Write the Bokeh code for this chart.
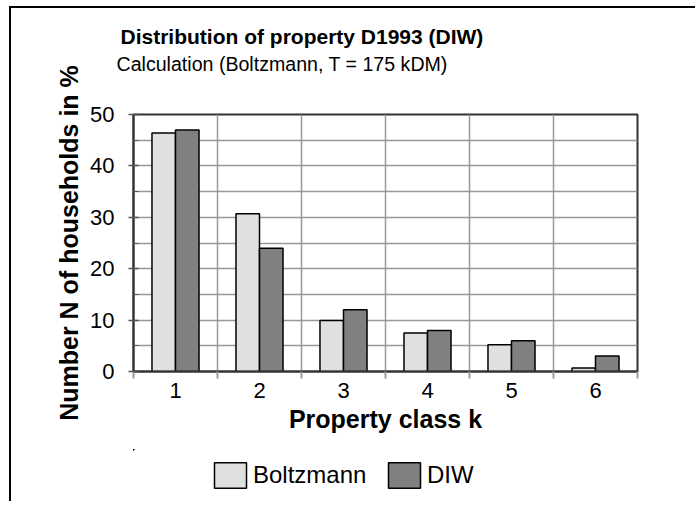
from bokeh.plotting import figure
from bokeh.layouts import column
from bokeh.models import ColumnDataSource, FixedTicker, Legend, LegendItem, Title
from bokeh.transform import dodge
from bokeh.embed import file_html
from bokeh.resources import INLINE

# ---- data ----
classes = [1, 2, 3, 4, 5, 6]
boltzmann = [46.4, 30.7, 9.9, 7.5, 5.2, 0.7]
diw = [47.0, 24.0, 12.0, 8.0, 6.0, 3.0]
y_ticks = [0, 10, 20, 30, 40, 50]
y_minor = [5, 15, 25, 35, 45]
class_bounds = [0.5, 1.5, 2.5, 3.5, 4.5, 5.5, 6.5]
series_names = ["Boltzmann", "DIW"]

title_text = "Distribution of property D1993 (DIW)"
subtitle_text = "Calculation (Boltzmann, T = 175 kDM)"
x_label = "Property class k"
y_label = "Number N of households in %"

FONT = "Liberation Sans"
GRID = "#999999"
AXIS = "#333333"
LIGHT = "#e0e0e0"
DARK = "#808080"

src = ColumnDataSource(dict(k=classes, boltzmann=boltzmann, diw=diw))

p = figure(width=684, height=441, x_range=(0.5, 6.5), y_range=(0, 50),
           output_backend="svg", toolbar_location=None,
           min_border_left=122, min_border_right=58,
           min_border_top=106, min_border_bottom=78)
p.background_fill_color = "white"
p.border_fill_color = "white"
p.outline_line_color = AXIS
p.outline_line_width = 2

p.vbar(x=dodge("k", -0.14, range=p.x_range), top="boltzmann", width=0.28,
       source=src, fill_color=LIGHT, line_color="black", line_width=1.5)
p.vbar(x=dodge("k", 0.14, range=p.x_range), top="diw", width=0.28,
       source=src, fill_color=DARK, line_color="black", line_width=1.5)

# x axis
xa = p.xaxis[0]
xa.ticker = FixedTicker(ticks=classes, minor_ticks=class_bounds)
xa.axis_line_color = AXIS
xa.axis_line_width = 2
xa.major_tick_line_color = None
xa.major_tick_out = 0
xa.major_tick_in = 0
xa.minor_tick_line_color = GRID
xa.minor_tick_line_width = 2
xa.minor_tick_out = 7
xa.minor_tick_in = 0
xa.major_label_standoff = 4
xa.major_label_text_font = FONT
xa.major_label_text_font_size = "22px"
xa.major_label_text_color = "black"
xa.axis_label = x_label
xa.axis_label_text_font = FONT
xa.axis_label_text_font_size = "25px"
xa.axis_label_text_font_style = "bold"
xa.axis_label_text_color = "black"
xa.axis_label_standoff = 4

p.xgrid.ticker = FixedTicker(ticks=class_bounds)
p.xgrid.grid_line_color = GRID
p.xgrid.grid_line_width = 1.5

# y axis
ya = p.yaxis[0]
ya.ticker = FixedTicker(ticks=y_ticks, minor_ticks=y_minor)
ya.axis_line_color = AXIS
ya.axis_line_width = 2
ya.major_tick_line_color = "#555555"
ya.major_tick_line_width = 1.5
ya.major_tick_out = 5
ya.major_tick_in = 5
ya.minor_tick_line_color = "#555555"
ya.minor_tick_out = 0
ya.minor_tick_in = 5
ya.major_label_standoff = 14
ya.major_label_text_font = FONT
ya.major_label_text_font_size = "22px"
ya.major_label_text_color = "black"
ya.axis_label = y_label
ya.axis_label_text_font = FONT
ya.axis_label_text_font_size = "25px"
ya.axis_label_text_font_style = "bold"
ya.axis_label_text_color = "black"
ya.axis_label_standoff = 4

p.ygrid.grid_line_color = GRID
p.ygrid.grid_line_width = 1.5
p.ygrid.minor_grid_line_color = GRID
p.ygrid.minor_grid_line_width = 1.5

# titles (stacked outward from the frame: spacer, subtitle, title)
p.add_layout(Title(text=" ", text_font=FONT, text_font_size="34px", standoff=0), "above")
p.add_layout(Title(text=subtitle_text, text_font=FONT, text_font_size="19.6px",
                   text_font_style="normal", align="left", offset=-17, standoff=0,
                   text_color="black"), "above")
p.add_layout(Title(text=title_text, text_font=FONT, text_font_size="21px",
                   text_font_style="bold", align="left", offset=-13, standoff=5,
                   text_color="black"), "above")

# legend strip below the chart (its bars lie far outside its visible ranges)
leg = figure(width=684, height=52, x_range=(100, 101), y_range=(-200, -100),
             output_backend="svg", toolbar_location=None, min_border=0)
leg.axis.visible = False
leg.grid.visible = False
leg.outline_line_color = None
leg.background_fill_color = "white"
leg.border_fill_color = "white"
k1 = leg.vbar(x=dodge("k", -0.14), top="boltzmann", width=0.28, source=src,
              fill_color=LIGHT, line_color="black", line_width=1.5)
k2 = leg.vbar(x=dodge("k", 0.14), top="diw", width=0.28, source=src,
              fill_color=DARK, line_color="black", line_width=1.5)
legend = Legend(items=[LegendItem(label=series_names[0], renderers=[k1]),
                       LegendItem(label=series_names[1], renderers=[k2])],
                location=(77, 10), orientation="horizontal", padding=0, margin=0,
                spacing=3, glyph_width=40, glyph_height=32, label_standoff=3,
                label_width=128,
                border_line_color=None, background_fill_alpha=0,
                label_text_font=FONT, label_text_font_size="24px",
                label_text_color="black")
leg.add_layout(legend)

layout = column(p, leg, spacing=0,
                styles={"border-top": "2px solid black", "border-left": "2px solid black",
                        "margin-left": "9px", "margin-top": "6px"})

open("out.html", "w").write(file_html(layout, INLINE))
